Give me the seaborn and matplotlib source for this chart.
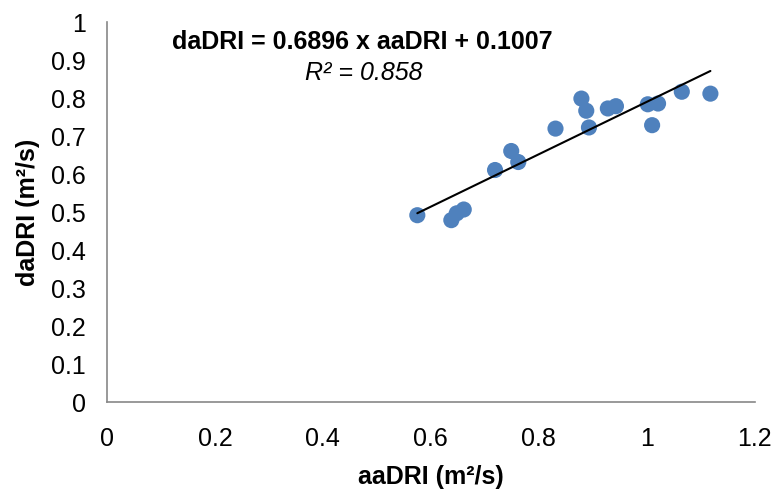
import pandas as pd
import seaborn as sns
import matplotlib.pyplot as plt

# Data
aa_dri = [0.575, 0.638, 0.648, 0.661, 0.719, 0.749, 0.762, 0.831, 0.879, 0.888,
          0.893, 0.928, 0.943, 1.002, 1.021, 1.010, 1.065, 1.118]
da_dri = [0.492, 0.479, 0.497, 0.507, 0.611, 0.661, 0.632, 0.720, 0.799, 0.767,
          0.723, 0.773, 0.779, 0.784, 0.786, 0.729, 0.817, 0.812]
slope = 0.6896
intercept = 0.1007
r2 = 0.858

x_ticks = [0, 0.2, 0.4, 0.6, 0.8, 1, 1.2]
x_tick_labels = ["0", "0.2", "0.4", "0.6", "0.8", "1", "1.2"]
y_ticks = [0, 0.1, 0.2, 0.3, 0.4, 0.5, 0.6, 0.7, 0.8, 0.9, 1]
y_tick_labels = ["0", "0.1", "0.2", "0.3", "0.4", "0.5", "0.6", "0.7", "0.8", "0.9", "1"]

df = pd.DataFrame({"aaDRI": aa_dri, "daDRI": da_dri})

sns.set_style("white")
plt.rcParams['font.family'] = ['Liberation Sans', 'DejaVu Sans']
plt.rcParams['text.color'] = 'black'
plt.rcParams['axes.labelcolor'] = 'black'
plt.rcParams['xtick.color'] = 'black'
plt.rcParams['ytick.color'] = 'black'

fig = plt.figure(figsize=(7.78, 4.94), dpi=100)
ax = fig.add_axes([0.1375, 0.186, 0.8325, 0.769])

# Scatter
sns.scatterplot(x="aaDRI", y="daDRI", data=df, ax=ax, s=135,
                color="#4F81BD", edgecolor="none", zorder=3)

# Linear trendline over the data range
x_line = [min(aa_dri), max(aa_dri)]
y_line = [slope * v + intercept for v in x_line]
ax.plot(x_line, y_line, color="black", lw=1.5, zorder=4)

ax.set_xlim(0, 1.2)
ax.set_ylim(0, 1)
ax.set_xticks(x_ticks)
ax.set_xticklabels(x_tick_labels, fontsize=18)
ax.set_yticks(y_ticks)
ax.set_yticklabels(y_tick_labels, fontsize=18)
ax.tick_params(axis="x", length=0, pad=18)
ax.tick_params(axis="y", length=0, pad=15)

ax.set_xlabel("aaDRI (m²/s)", fontsize=18, fontweight="bold", labelpad=10)
ax.set_ylabel("daDRI (m²/s)", fontsize=18, fontweight="bold", labelpad=8)

for side in ["top", "right"]:
    ax.spines[side].set_visible(False)
for side in ["left", "bottom"]:
    ax.spines[side].set_color("#888888")
    ax.spines[side].set_linewidth(1.2)

# Trendline equation
fig.text(362 / 778, 1 - 42 / 494, "daDRI = 0.6896 x aaDRI + 0.1007",
         fontsize=18, fontweight="bold", ha="center", va="center")
fig.text(364 / 778, 1 - 73 / 494, f"R² = {r2}",
         fontsize=18, style="italic", ha="center", va="center")

plt.savefig("out.png", dpi=100)
